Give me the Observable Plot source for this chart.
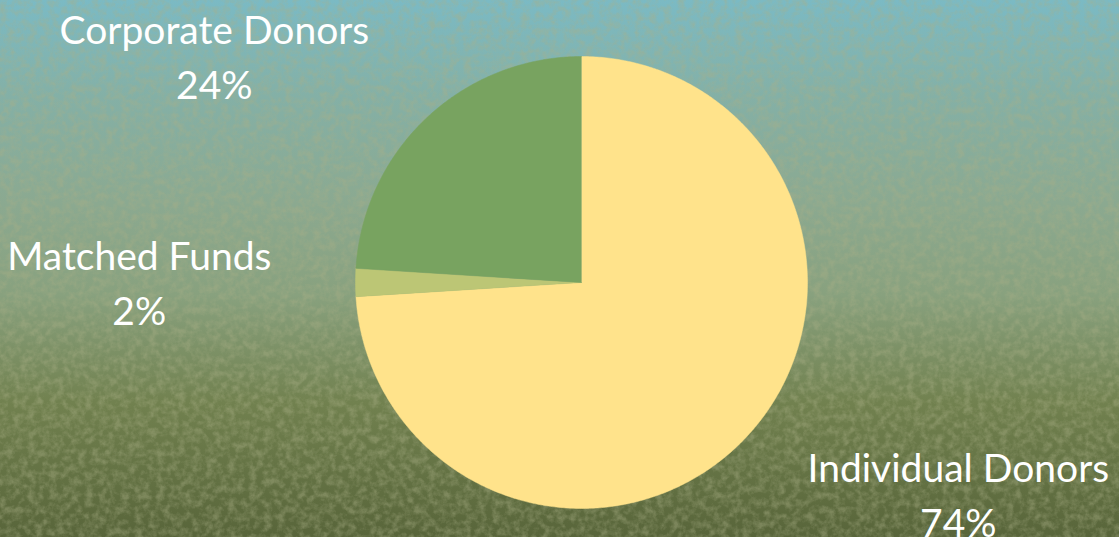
<!DOCTYPE html>
<html>
<head>
<meta charset="utf-8">
<script src="https://cdn.jsdelivr.net/npm/d3@7"></script>
<script src="https://cdn.jsdelivr.net/npm/@observablehq/plot@0.6"></script>
<style>
  html, body { margin: 0; padding: 0; }
  #wrap {
    position: relative; width: 1119px; height: 537px; overflow: hidden;
    background: linear-gradient(to bottom, #7bbac4 0%, #84b0a6 18%, #8ba990 38%, #88a17e 55%, #71814f 75%, #58653a 100%);
  }
  #wrap svg { position: absolute; left: 0; top: 0; }
</style>
</head>
<body>
<div id="wrap">
  <svg id="tex" width="1119" height="537">
    <filter id="noise" x="0" y="0" width="100%" height="100%">
      <feTurbulence type="fractalNoise" baseFrequency="0.14" numOctaves="4" seed="11" result="t"/>
      <feColorMatrix type="matrix" values="0 0 0 0 0.40  0 0 0 0 0.43  0 0 0 0 0.24  0 0 0 -2.4 1.5"/>
    </filter>
    <rect width="1119" height="537" filter="url(#noise)" opacity="0.42"/>
  </svg>
</div>
<script>
const categories = ["Individual Donors", "Matched Funds", "Corporate Donors"];
const shares = [74, 2, 24];
const colors = ["#ffe38b", "#bcc675", "#78a360"];

const W = 1119, H = 537, cx = 581, cy = 282, R = 226;
const fontSize = 39, fontFamily = "Lato";
const labelRadius = 1.372;

const total = d3.sum(shares);
let acc = 0;
const slices = categories.map((name, i) => {
  const a0 = acc / total * 2 * Math.PI;
  acc += shares[i];
  const a1 = acc / total * 2 * Math.PI;
  return {name, value: shares[i], a0, a1, mid: (a0 + a1) / 2};
});

// polygon points for each slice (clockwise from 12 o'clock)
const pts = [];
for (const s of slices) {
  pts.push({name: s.name, x: 0, y: 0});
  const n = Math.max(2, Math.ceil((s.a1 - s.a0) / (Math.PI / 360)));
  for (let k = 0; k <= n; k++) {
    const a = s.a0 + (s.a1 - s.a0) * k / n;
    pts.push({name: s.name, x: Math.sin(a), y: Math.cos(a)});
  }
}

// measure label widths so the block edge sits on the leader ray, lines centered
const ctx = document.createElement("canvas").getContext("2d");
ctx.font = `${fontSize}px ${fontFamily}`;
const labels = slices.map(s => {
  const text = `${s.name}\n${s.value}%`;
  const w = d3.max(text.split("\n"), t => ctx.measureText(t).width) / R;
  const left = Math.sin(s.mid) < 0;
  return {
    name: s.name, text,
    x: Math.sin(s.mid) * labelRadius + (left ? -w / 2 : w / 2),
    y: Math.cos(s.mid) * labelRadius
  };
});

const chart = Plot.plot({
  width: W, height: H,
  margin: 0,
  style: {background: "transparent", overflow: "visible"},
  x: {domain: [-cx / R, (W - cx) / R], range: [0, W], axis: null},
  y: {domain: [-(H - cy) / R, cy / R], range: [H, 0], axis: null},
  color: {domain: categories, range: colors},
  marks: [
    Plot.line(pts, {x: "x", y: "y", z: "name", fill: "name", stroke: "name", strokeWidth: 0.5, curve: "linear"}),
    Plot.text(labels, {x: "x", y: "y", text: "text", textAnchor: "middle", fontFamily, fontSize, fill: "white", lineHeight: 55 / fontSize, lineAnchor: "middle", dy: -3})
  ]
});
document.getElementById("wrap").appendChild(chart);
</script>
</body>
</html>
